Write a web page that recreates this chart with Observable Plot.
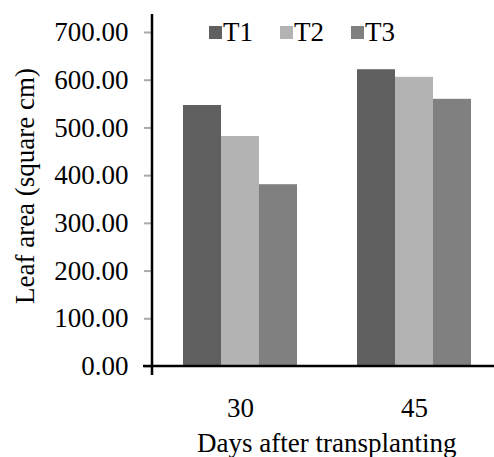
<!DOCTYPE html>
<html><head><meta charset="utf-8">
<script src="https://cdn.jsdelivr.net/npm/d3@7"></script>
<script src="https://cdn.jsdelivr.net/npm/@observablehq/plot@0.6"></script>
<style>
html,body{margin:0;padding:0;background:#fff;overflow:hidden}
#wrap{position:relative;width:494px;height:457px}
#wrap svg text{font-family:"Liberation Serif",serif}
#legend{position:absolute;left:209px;top:16px}
#legend, #legend *{font-family:"Liberation Serif",serif !important;font-size:27px !important;color:#000}
#legend > div, #legend > *{margin:0 !important}
#legend span{margin-right:27px !important;line-height:31px}
#legend svg{margin-right:1px !important}
</style></head><body><div id="wrap"><div id="legend"></div></div>
<script>
const days = ["30", "45"];
const treatments = ["T1", "T2", "T3"];
const valuesT1 = [547, 622];
const valuesT2 = [482, 606];
const valuesT3 = [381, 560];
const colors = ["#606060", "#b3b3b3", "#808080"];
const yTicks = [0, 100, 200, 300, 400, 500, 600, 700];
const xTitle = "Days after transplanting";
const yTitle = "Leaf area (square cm)";

const series = [valuesT1, valuesT2, valuesT3];
const data = [];
series.forEach((vals, i) => vals.forEach((v, j) => data.push({day: days[j], t: treatments[i], value: v})));

const chart = Plot.plot({
  width: 494, height: 457,
  marginLeft: 152, marginRight: -7.5, marginTop: 32, marginBottom: 91,
  style: {fontFamily: "'Liberation Serif', serif", fontSize: "27px", background: "white", color: "black", overflow: "hidden"},
  fx: {domain: days, paddingInner: 0, paddingOuter: 0, label: null},
  x: {domain: treatments, paddingInner: 0, paddingOuter: 0.75, axis: null},
  y: {domain: [0, 700], label: null},
  color: {domain: treatments, range: colors},
  marks: [
    Plot.barY(data, {fx: "day", x: "t", y: "value", fill: "t"}),
    Plot.axisY(yTicks, {tickSize: 9, stroke: "#aaaaaa", strokeWidth: 2, fill: "black", tickPadding: 16, tickFormat: d => d.toFixed(2), label: null}),
    Plot.axisFx({anchor: "bottom", tickSize: 0, tickPadding: 31, label: null})
  ]
});

const svg = d3.select(chart);
const ys = chart.scale("y");
const fxs = chart.scale("fx");
const y0 = ys.apply(0);
const yTop = ys.apply(700);
const left = 152;
svg.append("line").attr("x1", left - 9).attr("x2", 494).attr("y1", y0).attr("y2", y0)
  .attr("stroke", "black").attr("stroke-width", 2.5);
svg.append("line").attr("x1", left).attr("x2", left).attr("y1", yTop - 18).attr("y2", y0 + 9)
  .attr("stroke", "black").attr("stroke-width", 2.5);
svg.append("text").text(xTitle)
  .attr("x", (fxs.range[0] + fxs.range[1]) / 2).attr("y", 452)
  .attr("text-anchor", "middle").attr("fill", "black");
svg.append("text").text(yTitle)
  .attr("transform", `translate(25,${(y0 + yTop) / 2 - 13}) rotate(-90)`)
  .attr("text-anchor", "middle").attr("dominant-baseline", "central").attr("fill", "black");

const wrap = document.getElementById("wrap");
wrap.insertBefore(chart, wrap.firstChild);
const lg = chart.legend("color", {swatchSize: 13, className: "lg"});
document.getElementById("legend").appendChild(lg);
</script>
</body></html>
